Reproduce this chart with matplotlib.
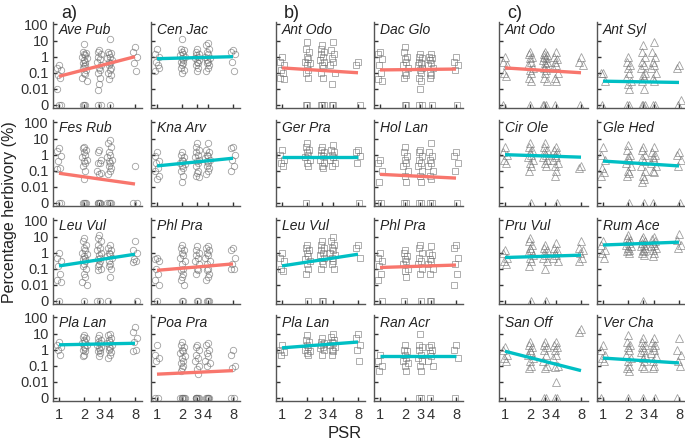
import numpy as np
import matplotlib.pyplot as plt

plt.rcParams["font.family"] = ["Liberation Sans", "DejaVu Sans"]

# PSR levels and herbivory (%) per species; 0 means no damage
psr_levels = [1, 2, 3, 4, 8]

a_species = ["Ave Pub", "Cen Jac", "Fes Rub", "Kna Arv", "Leu Vul", "Phl Pra", "Pla Lan", "Poa Pra"]
b_species = ["Ant Odo", "Dac Glo", "Ger Pra", "Hol Lan", "Leu Vul", "Phl Pra", "Pla Lan", "Ran Acr"]
c_species = ["Ant Odo", "Ant Syl", "Cir Ole", "Gle Hed", "Pru Vul", "Rum Ace", "San Off", "Ver Cha"]

a_points = [
    {1: [0.3, 0.2, 0.15, 0.07, 0.05, 0.01, 0, 0],
     2: [6, 2, 1.8, 1.5, 1.2, 1, 0.8, 0.6, 0.5, 0.4, 0.3, 0.25, 0.2, 0.15, 0.1, 0.08, 0.05, 0.03, 0, 0, 0],
     3: [2.5, 2, 1.5, 1, 0.7, 0.5, 0.3, 0.2, 0.15, 0.1, 0.05, 0.02, 0.008, 0, 0],
     4: [12, 2, 1.8, 1.5, 1, 0.8, 0.6, 0.5, 0.4, 0.3, 0.2, 0.15, 0.1, 0.07, 0.04, 0],
     8: [4, 2, 1, 0.4, 0.12]},
    {1: [3, 1.5, 1, 0.5, 0.3, 0.12, 0.2],
     2: [12, 3, 2.5, 2, 1.5, 1.2, 1, 0.8, 0.6, 0.5, 0.4, 0.3, 0.2, 0.15, 0.1],
     3: [3, 2, 1.5, 1.2, 1, 0.8, 0.6, 0.5, 0.4, 0.3, 0.2, 0.12],
     4: [7, 5, 3, 2, 1.5, 1, 0.8, 0.6, 0.5, 0.4, 0.3, 0.2, 0.12],
     8: [2.5, 2, 1.5, 0.5, 0.12]},
    {1: [2.5, 1.8, 0.8, 0.4, 0.15, 0.12, 0, 0],
     2: [3, 2.5, 2, 1.5, 1, 0.7, 0.5, 0.4, 0.3, 0.2, 0.1, 0.03, 0, 0, 0, 0],
     3: [2, 1.5, 0.5, 0.3, 0.3, 0.1, 0.07, 0.06, 0, 0, 0, 0, 0],
     4: [8, 5, 3, 1.5, 1, 0.7, 0.5, 0.4, 0.3, 0.2, 0.15, 0.1, 0.06, 0, 0, 0, 0],
     8: [0.2, 0, 0]},
    {1: [1.5, 0.8, 0.4, 0.3, 0.15, 0.1, 0.05, 0.03],
     2: [1.5, 1, 0.7, 0.5, 0.4, 0.3, 0.25, 0.2, 0.15, 0.1, 0.05, 0.02],
     3: [5, 3, 2, 1.5, 1, 0.7, 0.5, 0.4, 0.3, 0.2, 0.1, 0.07, 0.05, 0.04],
     4: [5, 2, 1.5, 1, 0.8, 0.6, 0.5, 0.4, 0.3, 0.2, 0.15, 0.1, 0.06],
     8: [3, 2.5, 1, 0.5, 0.2, 0.1]},
    {1: [1, 0.5, 0.3, 0.15, 0.05, 0.02, 0.015, 0],
     2: [8, 5, 3, 2, 1.5, 1, 0.8, 0.6, 0.5, 0.4, 0.3, 0.2, 0.15, 0.1, 0.05, 0.03, 0.015, 0.01, 0],
     3: [12, 8, 5, 3, 2, 1.5, 1, 0.7, 0.5, 0.4, 0.3, 0.2, 0.15, 0.1, 0.08, 0, 0],
     4: [3, 2, 1.5, 1, 0.8, 0.6, 0.5, 0.3, 0.2, 0.15, 0.1, 0.03, 0],
     8: [5, 1.5, 1, 0.4, 0.3, 0.25, 0]},
    {1: [0.5, 0.4, 0.3, 0.1, 0.05, 0.02, 0.01, 0],
     2: [3, 2, 1.5, 1, 0.7, 0.5, 0.3, 0.2, 0.1, 0.08, 0.05, 0.03, 0.02, 0.01, 0, 0],
     3: [2.5, 1.5, 1, 0.7, 0.5, 0.3, 0.2, 0.1, 0.08, 0.05, 0, 0],
     4: [2.5, 2, 1.5, 1, 0.7, 0.5, 0.3, 0.2, 0.1, 0.08, 0.05, 0.03, 0.02, 0, 0, 0],
     8: [2, 1.5, 0.5, 0.2, 0.1, 0.1]},
    {1: [3, 2, 1.5, 1, 0.5],
     2: [8, 6, 5, 4, 3, 2.5, 2, 1.5, 1.2, 1, 0.8, 0.5, 0.4],
     3: [8, 5, 4, 3, 2.5, 2, 1.5, 1.2, 1, 0.8, 0.6, 0.4],
     4: [10, 8, 5, 4, 3, 2.5, 2, 1.5, 1.2, 1, 0.7, 0.5, 0.3],
     8: [25, 12, 5, 3, 1, 0.8]},
    {1: [2, 0.5, 0.3, 0.2, 0, 0],
     2: [3, 2, 1.5, 1, 0.8, 0.6, 0.4, 0.3, 0.2, 0.15, 0.1, 0.07, 0.05, 0, 0, 0, 0, 0, 0],
     3: [2, 1.5, 1, 0.5, 0.3, 0.2, 0.1, 0.06, 0.03, 0, 0, 0, 0, 0, 0],
     4: [2.5, 2, 1, 0.6, 0.4, 0.2, 0.15, 0.1, 0, 0, 0, 0, 0],
     8: [1, 0.5, 0.1, 0.07, 0, 0]},
]

b_points = [
    {1: [1, 0.5, 0.3, 0.15, 0.1, 0.05, 0.04],
     2: [8, 3, 2, 1, 0.7, 0.5, 0.4, 0.3, 0.15, 0.1, 0.05, 0, 0],
     3: [5, 3, 2, 1.5, 1, 0.6, 0.5, 0.3, 0.2, 0.1, 0.05, 0, 0, 0],
     4: [8, 2.5, 1.5, 0.8, 0.5, 0.3, 0.1, 0.02, 0, 0],
     8: [0.5, 0.3, 0]},
    {1: [2, 1.5, 0.7, 0.3, 0.1, 0.04, 0.03],
     2: [4, 2, 1, 0.7, 0.5, 0.3, 0.2, 0.1, 0.07, 0.05, 0, 0],
     3: [1.5, 1, 0.8, 0.5, 0.4, 0.3, 0.2, 0.15, 0.1, 0.05, 0.03, 0.01, 0, 0],
     4: [1.5, 1, 0.8, 0.6, 0.4, 0.3, 0.2, 0.1, 0.07, 0.05, 0],
     8: [1, 0.5, 0.3, 0.15, 0]},
    {1: [2, 1, 0.5, 0.3, 0.2],
     2: [5, 3, 2, 1.5, 1, 0.7, 0.5, 0.3, 0.2, 0],
     3: [3, 2, 1.5, 1, 0.8, 0.5, 0.3, 0.2, 0.15],
     4: [4, 2, 1.5, 1, 0.7, 0.5, 0.3, 0.2],
     8: [2, 1.5, 0.8, 0.3, 0]},
    {1: [0.5, 0.3, 0.1, 0.02, 0, 0],
     2: [3, 1.5, 0.8, 0.5, 0.3, 0.2, 0.1, 0.05, 0.02, 0, 0],
     3: [2, 1.5, 0.8, 0.5, 0.3, 0.2, 0.1, 0.05, 0.02, 0, 0],
     4: [5, 1.5, 0.8, 0.5, 0.3, 0.2, 0.1, 0.05, 0.03, 0, 0],
     8: [1.5, 0.8, 0.3, 0.1, 0]},
    {1: [1, 0.5, 0.3, 0.1, 0.07],
     2: [3, 2, 1.5, 1, 0.6, 0.4, 0.3, 0.2, 0.1, 0.05, 0],
     3: [5, 3, 2, 1.5, 1, 0.7, 0.5, 0.3, 0.2, 0.1, 0, 0],
     4: [10, 5, 3, 2, 1.5, 1, 0.7, 0.5, 0.3, 0.2, 0.1],
     8: [3, 2, 0.5]},
    {1: [1, 0.5, 0.3, 0.15, 0.05, 0.02, 0],
     2: [1.5, 1, 0.6, 0.4, 0.3, 0.2, 0.1, 0.07, 0.03, 0],
     3: [3, 2, 1, 0.5, 0.3, 0.2, 0.1, 0.05, 0],
     4: [2.5, 1, 0.7, 0.4, 0.3, 0.2, 0.1, 0.05, 0, 0],
     8: [3, 2, 0.5, 0.2, 0.05, 0.01]},
    {1: [2, 1, 0.7, 0.5],
     2: [8, 4, 3, 2, 1.5, 1, 0.8, 0.6, 0.5],
     3: [5, 3, 2.5, 2, 1.5, 1.2, 1, 0.5],
     4: [10, 6, 4, 3, 2.5, 2, 1.5, 1, 0.8, 0.5],
     8: [10, 5, 2, 1, 0.2]},
    {1: [0.5, 0.2, 0.1, 0.05],
     2: [2, 1, 0.8, 0.5, 0.3, 0.2, 0.15, 0.1, 0.05],
     3: [10, 2, 1.5, 1, 0.5, 0.3, 0.2, 0.1, 0.05, 0, 0],
     4: [2, 1.5, 1, 0.6, 0.4, 0.2, 0.1, 0],
     8: [2, 1, 0.3, 0]},
]

c_points = [
    {1: [1, 0.5, 0.3, 0.1, 0.06, 0],
     2: [2, 1.5, 1, 0.8, 0.5, 0.3, 0.2, 0.15, 0.1, 0.05, 0.03, 0],
     3: [2, 1.5, 1.2, 1, 0.8, 0.6, 0.5, 0.4, 0.3, 0.2, 0.15, 0.1, 0.05, 0.03, 0, 0, 0],
     4: [2, 1, 0.7, 0.5, 0.3, 0.2, 0.1, 0.05, 0.03, 0],
     8: [1, 0.5, 0.3, 0]},
    {1: [0.1, 0.1, 0.03, 0],
     2: [1, 0.5, 0.3, 0.2, 0.1, 0.05, 0.03, 0.02, 0.01, 0, 0],
     3: [5, 2, 1, 0.5, 0.3, 0.2, 0.1, 0.07, 0.05, 0.03, 0.01, 0, 0, 0],
     4: [8, 2, 1, 0.5, 0.3, 0.2, 0.1, 0.05, 0.03, 0, 0],
     8: [0.3, 0.2, 0.002, 0]},
    {1: [3, 1.5, 1, 0.5, 0.3],
     2: [5, 3, 2, 1.5, 1, 0.7, 0.5, 0.3, 0.2, 0.1, 0],
     3: [5, 3, 2, 1.5, 1, 0.7, 0.5, 0.3, 0.2],
     4: [3, 2, 1.5, 1, 0.7, 0.5, 0.3, 0.2, 0.1, 0.05, 0],
     8: [0.2, 0.15]},
    {1: [3, 1, 0.5, 0.15, 0.08, 0.05],
     2: [4, 2, 1, 0.7, 0.5, 0.3, 0.2, 0.1, 0.07, 0.05, 0],
     3: [3, 2, 1, 0.6, 0.4, 0.2, 0.1, 0.05, 0.03, 0.02, 0],
     4: [3, 1.5, 1, 0.7, 0.5, 0.3, 0.2, 0.1, 0.08, 0],
     8: [1.5, 1, 0.5, 0.2, 0]},
    {1: [1.5, 1, 0.5, 0.3, 0.2],
     2: [8, 5, 3, 2, 1.5, 1, 0.7, 0.5, 0.3, 0.15, 0],
     3: [3, 2, 1.5, 1, 0.7, 0.5, 0.3, 0.1, 0],
     4: [4, 2, 1.5, 1, 0.7, 0.5, 0.3],
     8: [5, 2, 1.5, 1, 0.5, 0.3]},
    {1: [5, 3, 1.5, 1, 0.5],
     2: [12, 8, 6, 5, 4, 3, 2.5, 2, 1.5, 1.2, 1],
     3: [10, 7, 5, 4, 3, 2.5, 2, 1.5, 1.2, 1, 0.7, 0],
     4: [10, 7, 5, 4, 3, 2.5, 2, 1.5, 1, 0.6],
     8: [15, 6, 3, 2]},
    {1: [1.5, 1, 0.5, 0.3, 0.2],
     2: [3, 2, 1.5, 1, 0.7, 0.5, 0.3, 0.2, 0.1, 0.07],
     3: [3, 2, 1.5, 1, 0.5, 0.2, 0.1, 0.07, 0, 0],
     4: [3, 2, 1.5, 1, 0.5, 0.3, 0.1, 0.08, 0.01, 0, 0],
     8: [20, 12]},
    {1: [2, 1, 0.5, 0.3, 0.2, 0],
     2: [8, 3, 2, 1.5, 1, 0.5, 0.3, 0.2, 0.1, 0.07, 0.05, 0],
     3: [5, 3, 2, 1.5, 1, 0.7, 0.5, 0.3, 0.2, 0.1, 0.07, 0],
     4: [5, 3, 2, 1.5, 1, 0.6, 0.4, 0.2, 0.1, 0.07, 0],
     8: [5, 1, 0.5, 0.2, 0.1, 0]},
]

# fitted herbivory at PSR = 1 and PSR = 8, and line group (r = red, t = teal)
a_fit = [(0.06, 1.0), (0.75, 1.0), (0.07, 0.015), (0.2, 0.6), (0.15, 0.8), (0.08, 0.2), (2.0, 2.5), (0.03, 0.05)]
a_kind = ["r", "t", "r", "t", "t", "r", "t", "r"]
b_fit = [(0.2, 0.1), (0.15, 0.17), (0.7, 0.7), (0.06, 0.035), (0.15, 0.8), (0.12, 0.17), (1.3, 3.0), (0.4, 0.4)]
b_kind = ["r", "r", "t", "r", "t", "r", "t", "t"]
c_fit = [(0.2, 0.1), (0.03, 0.025), (1.0, 0.7), (0.4, 0.2), (0.5, 0.7), (3.0, 4.5), (0.8, 0.05), (0.3, 0.15)]
c_kind = ["r", "t", "t", "t", "t", "t", "t", "t"]

groups = [
    ("a)", a_species, a_points, a_fit, a_kind, "o", 4.6, 53),
    ("b)", b_species, b_points, b_fit, b_kind, "s", 4.2, 276),
    ("c)", c_species, c_points, c_fit, c_kind, "^", 5.2, 499),
]

line_colors = {"r": "#F8766D", "t": "#00BFC4"}
jitter = [0, -0.06, 0.06, -0.03, 0.03, -0.09, 0.09, -0.015, 0.015, -0.045, 0.045]


def ty(v):
    v = np.asarray(v, dtype=float)
    return np.where(v > 0, np.log10(np.where(v > 0, v, 1)), -3.0)


W, H = 685, 441
fig = plt.figure(figsize=(W / 100, H / 100), dpi=100)

row_tops = [22, 120, 218, 315]
pw, ph = 89, 86
gray = "#555555"

for label, species, points, fits, kinds, marker, msize, x0 in groups:
    fig.text((x0 + 8) / W, 1 - 14 / H, label, fontsize=13, color="#222222", va="center")
    for k, name in enumerate(species):
        r, c = divmod(k, 2)
        left = x0 + c * 98
        top = row_tops[r]
        ax = fig.add_axes([left / W, 1 - (top + ph) / H, pw / W, ph / H])

        for lvl in psr_levels:
            vals = points[k][lvl]
            xs = np.log2(lvl) + np.array([jitter[i % len(jitter)] for i in range(len(vals))])
            ax.plot(xs, ty(vals), linestyle="none", marker=marker, markersize=msize,
                    markerfacecolor="none", markeredgecolor="#6e6e6e", markeredgewidth=0.6, alpha=0.65)

        y1, y8 = fits[k]
        ax.plot([0, 3], ty([y1, y8]), color=line_colors[kinds[k]], linewidth=2.4, solid_capstyle="butt")

        ax.set_xlim(-0.237, 3.276)
        ax.set_ylim(-3.19, 2.155)
        ax.set_yticks([-3, -2, -1, 0, 1, 2])
        ax.set_xticks(np.log2(psr_levels))
        for s in ["top", "right"]:
            ax.spines[s].set_visible(False)
        for s in ["left", "bottom"]:
            ax.spines[s].set_color(gray)
            ax.spines[s].set_linewidth(1.0)
        ax.tick_params(direction="in", length=3, width=1, color="#333333", labelsize=10.5,
                       labelcolor="#333333", pad=3)
        ax.tick_params(axis="x", pad=5)
        if label == "a)" and c == 0:
            ax.set_yticklabels(["0", "0.01", "0.1", "1", "10", "100"])
        else:
            ax.set_yticklabels([])
        if r == 3:
            ax.set_xticklabels([str(v) for v in psr_levels])
        else:
            ax.set_xticklabels([])
        ax.text(0.065, 0.99, name, transform=ax.transAxes, ha="left", va="top",
                fontsize=10, style="italic", color="#222222")

fig.text(10 / W, 0.52, "Percentage herbivory (%)", rotation=90, fontsize=11.5,
         color="#222222", ha="center", va="center")
fig.text(345 / W, 1 - 434 / H, "PSR", fontsize=12, color="#222222", ha="center", va="center")

fig.savefig("out.png", dpi=100)
